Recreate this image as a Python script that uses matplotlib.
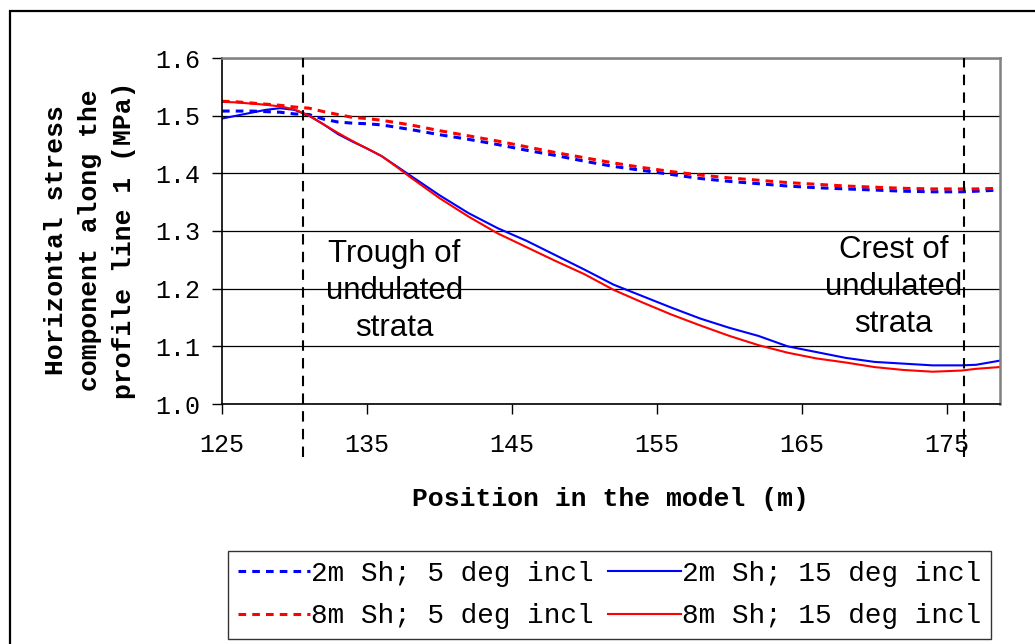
import matplotlib
matplotlib.use('Agg')
import matplotlib.pyplot as plt
from matplotlib.patches import Rectangle

# position along profile (m)
position = [125, 126, 127, 128, 129, 130, 131, 132, 133, 134, 135, 136, 137, 138,
            140, 142, 144, 146, 148, 150, 152, 154, 156, 158, 160, 162, 164, 166,
            168, 170, 172, 174, 176, 177, 178.6]

# horizontal stress (MPa)
sh2_inc5 = [1.508, 1.508, 1.508, 1.507, 1.506, 1.503, 1.502, 1.494, 1.489, 1.487,
            1.486, 1.484, 1.480, 1.476, 1.467, 1.459, 1.450, 1.440, 1.431, 1.421,
            1.412, 1.405, 1.398, 1.391, 1.386, 1.382, 1.378, 1.375, 1.373, 1.371,
            1.369, 1.368, 1.368, 1.369, 1.371]
sh8_inc5 = [1.525, 1.524, 1.522, 1.520, 1.518, 1.515, 1.513, 1.507, 1.502, 1.497,
            1.495, 1.492, 1.488, 1.484, 1.474, 1.465, 1.456, 1.446, 1.436, 1.427,
            1.418, 1.410, 1.403, 1.397, 1.392, 1.388, 1.384, 1.381, 1.378, 1.376,
            1.374, 1.373, 1.373, 1.373, 1.374]
sh2_inc15 = [1.495, 1.500, 1.505, 1.510, 1.513, 1.510, 1.500, 1.485, 1.468, 1.455,
             1.443, 1.430, 1.413, 1.396, 1.362, 1.331, 1.305, 1.283, 1.258, 1.233,
             1.207, 1.187, 1.167, 1.148, 1.132, 1.118, 1.100, 1.090, 1.080, 1.073,
             1.070, 1.067, 1.067, 1.068, 1.075]
sh8_inc15 = [1.524, 1.523, 1.521, 1.519, 1.516, 1.511, 1.500, 1.485, 1.470, 1.456,
             1.443, 1.430, 1.412, 1.393, 1.357, 1.325, 1.296, 1.272, 1.248, 1.225,
             1.198, 1.176, 1.155, 1.136, 1.118, 1.102, 1.089, 1.079, 1.072, 1.064,
             1.059, 1.056, 1.058, 1.061, 1.064]

labels = ['2m Sh; 5 deg incl', '8m Sh; 5 deg incl',
          '2m Sh; 15 deg incl', '8m Sh; 15 deg incl']
trough_x, crest_x = 130.6, 176.2
x_ticks = [125, 135, 145, 155, 165, 175]
y_ticks = [1.0, 1.1, 1.2, 1.3, 1.4, 1.5, 1.6]

mono = 'Liberation Mono'
sans = 'Liberation Sans'

fig = plt.figure(figsize=(10.35, 6.44), dpi=100)
ax = fig.add_axes([222 / 1035, 1 - 404 / 644, 778 / 1035, 346 / 644])

dash = (0, (2.5, 2))
l1, = ax.plot(position, sh2_inc5, color='#0000FF', lw=2.2, ls=dash)
l2, = ax.plot(position, sh8_inc5, color='#FF0000', lw=2.2, ls=dash)
l3, = ax.plot(position, sh2_inc15, color='#0000FF', lw=1.5)
l4, = ax.plot(position, sh8_inc15, color='#FF0000', lw=1.5)

for xv in (trough_x, crest_x):
    ax.axvline(xv, ymin=-0.153, ymax=1, color='black', lw=1.5,
               ls=(0, (5, 3.5)), clip_on=False, zorder=5)

ax.set_xlim(125, 178.65)
ax.set_ylim(1.0, 1.6)
ax.set_xticks(x_ticks)
ax.set_xticklabels([str(v) for v in x_ticks], fontfamily=mono, fontsize=18)
ax.set_yticks(y_ticks)
ax.set_yticklabels(['%.1f' % v for v in y_ticks], fontfamily=mono, fontsize=18)
ax.tick_params(axis='x', length=7, width=1, pad=14)
ax.tick_params(axis='y', length=7, width=1, pad=9)
ax.yaxis.grid(True, color='black', lw=0.9)
ax.set_axisbelow(True)
for s in ('top', 'right'):
    ax.spines[s].set_color('#808080')
    ax.spines[s].set_linewidth(1.8)
for s in ('left', 'bottom'):
    ax.spines[s].set_linewidth(1.2)

ax.text(136.9, 1.196, 'Trough of\nundulated\nstrata', ha='center', va='center',
        fontfamily=sans, fontsize=22.5, linespacing=1.3)
ax.text(171.3, 1.203, 'Crest of\nundulated\nstrata', ha='center', va='center',
        fontfamily=sans, fontsize=22.5, linespacing=1.3)

fig.text(90 / 1035, 1 - 240 / 644,
         'Horizontal stress\ncomponent along the\nprofile line 1 (MPa)',
         rotation=90, ha='center', va='center', multialignment='center',
         fontfamily=mono, fontweight='bold', fontsize=19, linespacing=1.55)
fig.text(610 / 1035, 1 - 499 / 644, 'Position in the model (m)',
         ha='center', va='center', fontfamily=mono, fontweight='bold', fontsize=19)

leg = fig.legend([l1, l2, l3, l4], labels, ncol=2, loc='upper left',
                 bbox_to_anchor=(228 / 1035, 1 - 640 / 644, 763 / 1035, 89 / 644),
                 mode='expand', frameon=True, fancybox=False, edgecolor='black',
                 prop={'family': mono, 'size': 20}, handlelength=2.6,
                 handletextpad=0.05, columnspacing=1.0, labelspacing=0.6,
                 borderpad=0.35, borderaxespad=0)
leg.get_frame().set_linewidth(1.0)

fig.patches.append(Rectangle((10 / 1035, -0.2), 1.2, 1.2 - 11 / 644,
                             transform=fig.transFigure, fill=False,
                             edgecolor='black', lw=1.6))

fig.savefig('out.png', dpi=100)
